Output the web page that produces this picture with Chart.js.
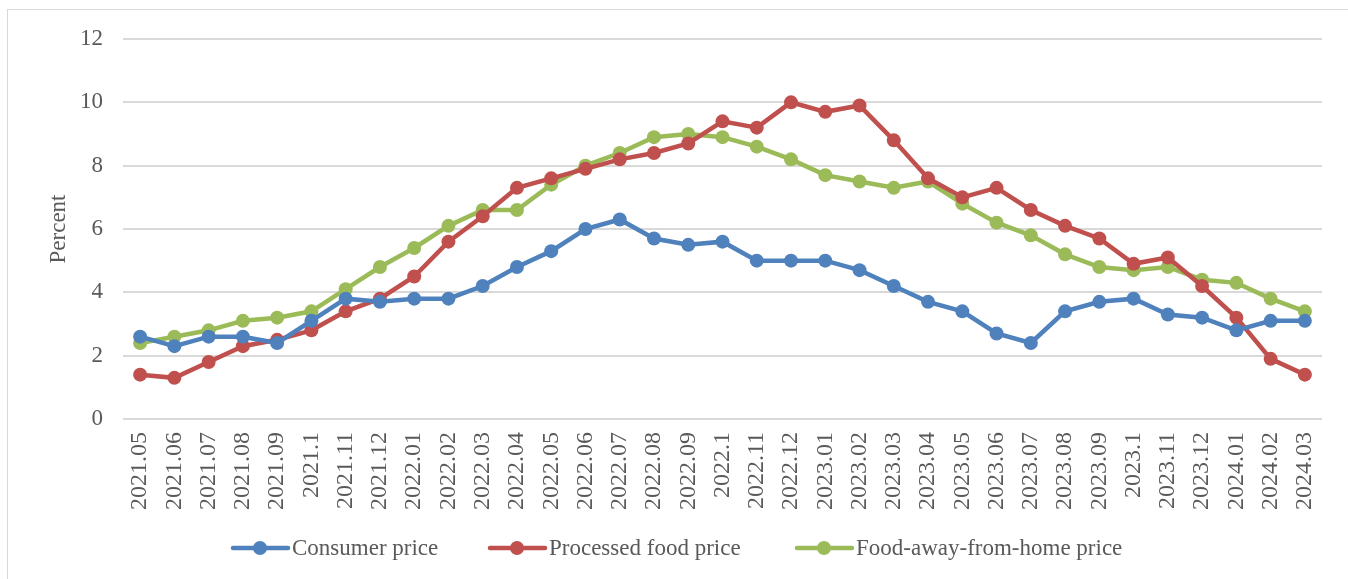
<!DOCTYPE html>
<html>
<head>
<meta charset="utf-8">
<script src="https://cdn.jsdelivr.net/npm/chart.js@4"></script>
<style>
  body { margin: 0; background: #fff; }
  #frame { position: absolute; left: 7px; top: 9px; width: 1348px; height: 580px; border: 1px solid #d9d9d9; box-sizing: border-box; }
  #wrap { position: absolute; left: 0; top: 0; width: 1348px; height: 579px; }
</style>
</head>
<body>
<div id="frame"></div>
<div id="wrap"><canvas id="chartCanvas" width="1348" height="579"></canvas></div>
<script>
const months = ["2021.05", "2021.06", "2021.07", "2021.08", "2021.09", "2021.1", "2021.11", "2021.12",
    "2022.01", "2022.02", "2022.03", "2022.04", "2022.05", "2022.06", "2022.07", "2022.08", "2022.09", "2022.1", "2022.11", "2022.12",
    "2023.01", "2023.02", "2023.03", "2023.04", "2023.05", "2023.06", "2023.07", "2023.08", "2023.09", "2023.1", "2023.11", "2023.12",
    "2024.01", "2024.02", "2024.03"];

const consumerPrice = [2.6, 2.3, 2.6, 2.6, 2.4, 3.1, 3.8, 3.7, 3.8, 3.8, 4.2, 4.8, 5.3, 6.0, 6.3, 5.7, 5.5, 5.6, 5.0, 5.0,
    5.0, 4.7, 4.2, 3.7, 3.4, 2.7, 2.4, 3.4, 3.7, 3.8, 3.3, 3.2, 2.8, 3.1, 3.1];
const processedFood = [1.4, 1.3, 1.8, 2.3, 2.5, 2.8, 3.4, 3.8, 4.5, 5.6, 6.4, 7.3, 7.6, 7.9, 8.2, 8.4, 8.7, 9.4, 9.2, 10.0,
    9.7, 9.9, 8.8, 7.6, 7.0, 7.3, 6.6, 6.1, 5.7, 4.9, 5.1, 4.2, 3.2, 1.9, 1.4];
const foodAway = [2.4, 2.6, 2.8, 3.1, 3.2, 3.4, 4.1, 4.8, 5.4, 6.1, 6.6, 6.6, 7.4, 8.0, 8.4, 8.9, 9.0, 8.9, 8.6, 8.2,
    7.7, 7.5, 7.3, 7.5, 6.8, 6.2, 5.8, 5.2, 4.8, 4.7, 4.8, 4.4, 4.3, 3.8, 3.4];

const seriesNames = ["Consumer price", "Processed food price", "Food-away-from-home price"];
const yTicks = [0, 2, 4, 6, 8, 10, 12];

const colors = ["#4f81bd", "#c0504d", "#9bbb59"];
const textColor = "#595959";
const fontFamily = "'Liberation Serif', 'Times New Roman', serif";

function makeSet(i, values) {
    return {
        label: seriesNames[i],
        data: values,
        borderColor: colors[i],
        backgroundColor: colors[i],
        borderWidth: 4.5,
        pointRadius: 7,
        pointBorderWidth: 0,
        pointHoverRadius: 7,
        tension: 0
    };
}

// legend: line with a dot, then the name, drawn below the axis
const lineLegend = {
    id: "lineLegend",
    afterDraw(chart) {
        const ctx = chart.ctx;
        const y = 548;
        const xs = [233, 490, 797];
        ctx.save();
        ctx.font = "23px " + fontFamily;
        ctx.textBaseline = "middle";
        chart.data.datasets.forEach((ds, i) => {
            const x = xs[i];
            ctx.strokeStyle = ds.borderColor;
            ctx.lineWidth = 4.5;
            ctx.lineCap = "round";
            ctx.beginPath();
            ctx.moveTo(x, y);
            ctx.lineTo(x + 55, y);
            ctx.stroke();
            ctx.fillStyle = ds.borderColor;
            ctx.beginPath();
            ctx.arc(x + 27, y, 7, 0, Math.PI * 2);
            ctx.fill();
            ctx.fillStyle = textColor;
            ctx.fillText(ds.label, x + 59, y + 1);
        });
        ctx.restore();
    }
};

const ctx = document.getElementById("chartCanvas").getContext("2d");

new Chart(ctx, {
    type: "line",
    data: {
        labels: months,
        datasets: [
            makeSet(0, consumerPrice),
            makeSet(1, processedFood),
            makeSet(2, foodAway)
        ]
    },
    options: {
        responsive: false,
        animation: false,
        events: [],
        layout: {
            padding: { left: 45, top: 39, right: 26, bottom: 56 }
        },
        plugins: {
            legend: { display: false },
            tooltip: { enabled: false }
        },
        scales: {
            x: {
                offset: true,
                grid: { display: false, drawTicks: false },
                border: { display: false },
                ticks: {
                    color: textColor,
                    font: { family: fontFamily, size: 24 },
                    minRotation: 90,
                    maxRotation: 90,
                    autoSkip: false,
                    padding: 13
                }
            },
            y: {
                min: 0,
                max: 12,
                afterBuildTicks: scale => {
                    scale.ticks = yTicks.map(v => ({ value: v }));
                },
                afterFit: scale => {
                    scale.width = 78;
                },
                grid: { color: "#d9d9d9", lineWidth: 2, drawTicks: false },
                border: { display: false },
                ticks: {
                    color: textColor,
                    font: { family: fontFamily, size: 23 },
                    padding: 20
                },
                title: {
                    display: true,
                    text: "Percent",
                    color: textColor,
                    font: { family: fontFamily, size: 23 },
                    padding: 0
                }
            }
        }
    },
    plugins: [lineLegend]
});
</script>
</body>
</html>
